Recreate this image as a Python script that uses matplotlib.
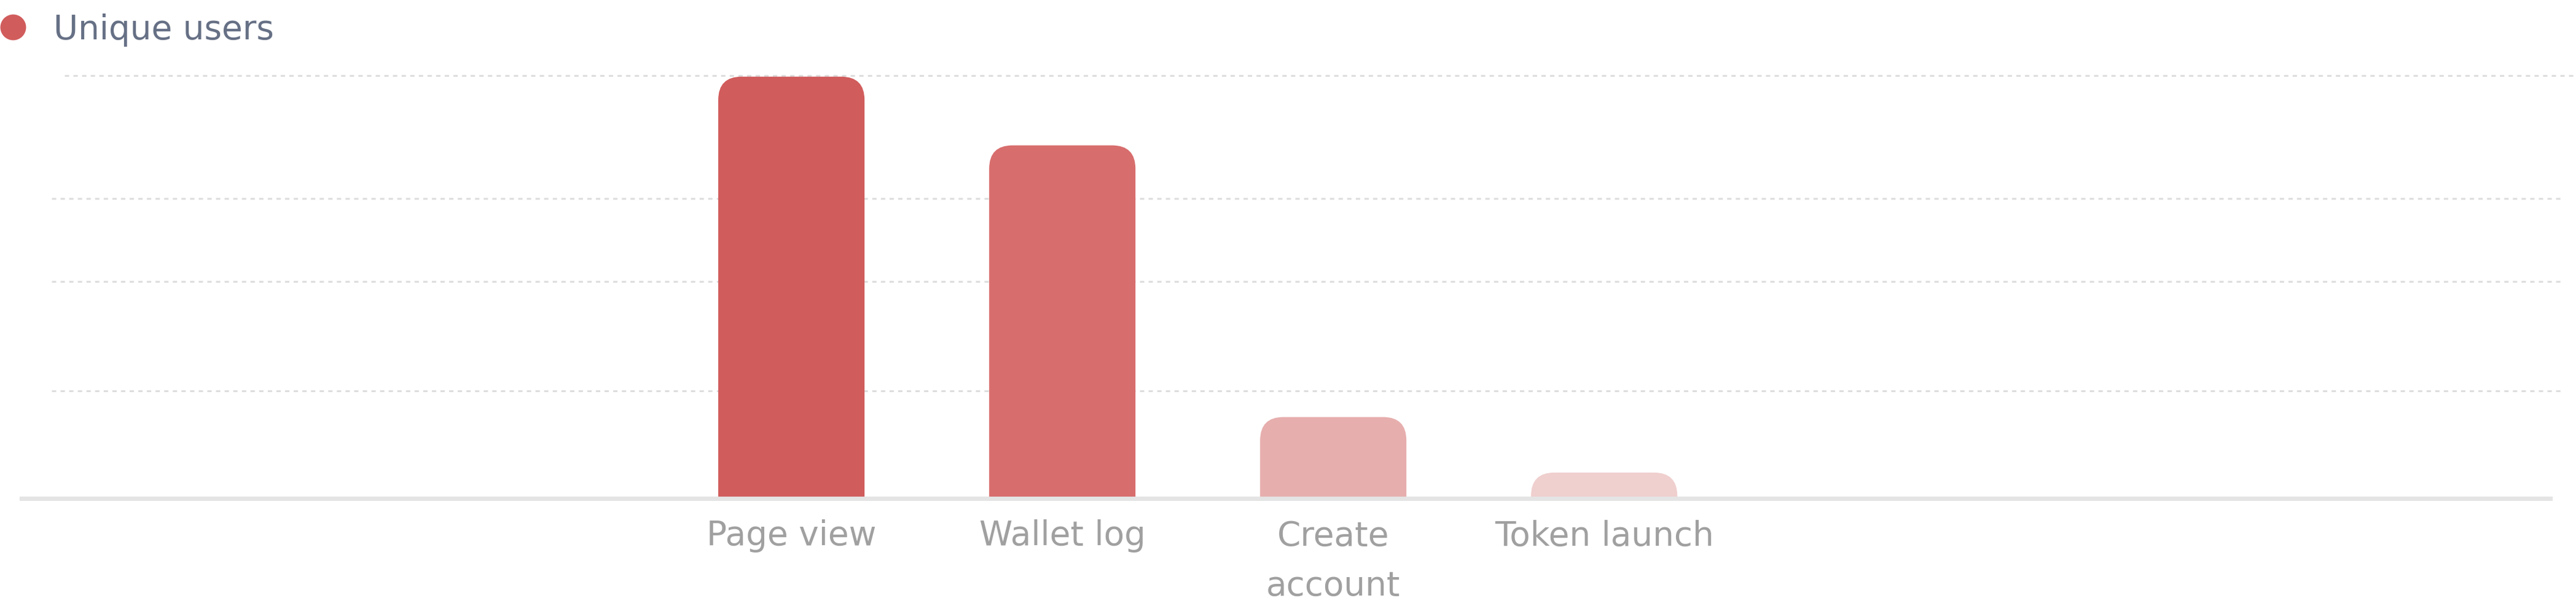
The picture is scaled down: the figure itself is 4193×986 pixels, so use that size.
import matplotlib
matplotlib.use("Agg")
import matplotlib.pyplot as plt
from matplotlib.patches import FancyBboxPatch
from matplotlib.lines import Line2D

# ---- data ----
categories = ["Page view", "Wallet log", "Create\naccount", "Token launch"]
unique_users = [3990, 3340, 770, 245]
grid_ticks = [1020, 2050, 2840, 4000]
series_name = "Unique users"
bar_colors = ["#d15c5c", "#d86d6d", "#e7aeae", "#f0cfcf"]

# ---- figure ----
W, H, DPI = 4193, 987, 100
plt.rcParams["font.family"] = ["DejaVu Sans"]
fig = plt.figure(figsize=(W / DPI, H / DPI), dpi=DPI)
ax = fig.add_axes([0, (H - 812) / H, 1, (812 - 100) / H])
ax.set_xlim(-2.921, 6.587)
ax.set_ylim(0, 4139.5)
for s in ax.spines.values():
    s.set_visible(False)
ax.set_yticks([])

# pixel sizes of one data unit
p0 = ax.transData.transform((0, 0))
px_x = ax.transData.transform((1, 0))[0] - p0[0]
px_y = ax.transData.transform((0, 1))[1] - p0[1]

bar_w = 0.54
r_px = 38
rx = r_px / px_x
ry = r_px / px_y
for i, (v, c) in enumerate(zip(unique_users, bar_colors)):
    patch = FancyBboxPatch((i - bar_w / 2, -ry), bar_w, v + ry,
                           boxstyle=f"round,pad=0,rounding_size={rx}",
                           mutation_aspect=ry / rx,
                           fc=c, ec="none", lw=0, zorder=2)
    ax.add_patch(patch)

# grid lines
top = max(grid_ticks)
for t in grid_ticks:
    if t == top:
        xmin, xmax = 105 / W, 1.0
    else:
        xmin, xmax = 84 / W, 4172 / W
    ax.axhline(t, xmin=xmin, xmax=xmax, color="#dedede", lw=2.2,
               linestyle=(0, (2.3, 2.3)), zorder=0)

# baseline
ax.axhline(0, xmin=35 / W, xmax=4151 / W, color="#e4e4e4", lw=5.0,
           zorder=3, clip_on=False)

# x tick labels
ax.set_xticks(range(len(categories)))
ax.set_xticklabels(categories)
ax.tick_params(axis="x", length=0, pad=24, labelsize=39.5, labelcolor="#a0a0a0")
for lbl in ax.get_xticklabels():
    lbl.set_linespacing(1.66)

# legend
handle = Line2D([0], [0], marker="o", ls="none", markersize=30.2,
                markerfacecolor=bar_colors[0], markeredgewidth=0)
fig.legend(handles=[handle], labels=[series_name], loc="upper left",
           bbox_to_anchor=(0, 0.978), frameon=False, borderpad=0,
           borderaxespad=0, handlelength=0.78, handletextpad=0.8,
           fontsize=39.5, labelcolor="#667085")

fig.savefig("out.png", dpi=DPI, facecolor="white")
